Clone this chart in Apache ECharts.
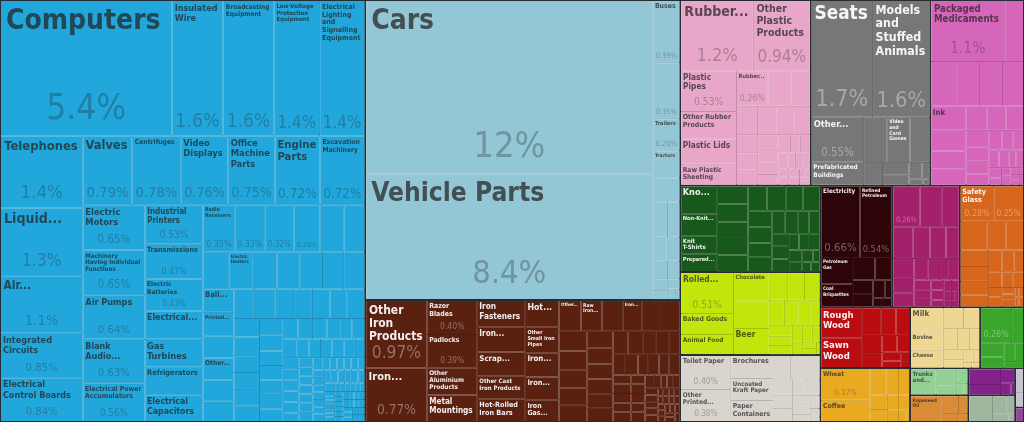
<!DOCTYPE html>
<html><head><meta charset="utf-8">
<script src="https://cdn.jsdelivr.net/npm/echarts/dist/echarts.min.js"></script>
<style>html,body{margin:0;padding:0;background:#232d33;}#c{width:1024px;height:422px;}</style>
</head><body><div id="c"></div>
<script>
// ---------------- DATA (share of exports, %) ----------------
const machinesNames = ['Computers','Insulated Wire','Broadcasting Equipment','Low-Voltage Protection Equipment','Electrical Lighting and Signalling Equipment',
'Telephones','Liquid...','Air...','Integrated Circuits','Electrical Control Boards',
'Valves','Centrifuges','Video Displays','Office Machine Parts','Engine Parts','Excavation Machinery',
'Electric Motors','Machinery Having Individual Functions','Air Pumps','Blank Audio...','Electrical Power Accumulators',
'Industrial Printers','Transmissions','Electric Batteries','Electrical...','Gas Turbines','Refrigerators','Electrical Capacitors',
'Radio Receivers','','','','','',
'','Electric Heaters','Vacuum Cleaners','Textile...','','Lifting Machinery','Other Electrical...','Printed...','Ball...','Other...'];
const machinesValues = [5.4,1.61,1.6,1.44,1.42,
1.38,1.3,1.1,0.85,0.84,
0.79,0.78,0.76,0.75,0.722,0.717,
0.652,0.648,0.64,0.63,0.56,
0.53,0.47,0.43,0.382,0.378,0.37,0.36,
0.35,0.33,0.32,0.29,0.26,0.23,
0.22,0.21,0.20,0.20,0.19,0.18,0.18,0.17,0.17,0.16,
0.16,0.15,0.15,0.14,0.14,0.13,0.13,0.12,0.12,0.12,
0.11,0.11,0.10,0.10,0.10,0.09,0.09,0.09,0.08,0.08,
0.08,0.08,0.07,0.07,0.07,0.07,0.06,0.06,0.06,0.06,
0.05,0.05,0.05,0.05,0.05,0.04,0.04,0.04,0.04,0.04,
0.04,0.03,0.03,0.03,0.03,0.03,0.03,0.03,0.03,0.03,
0.02,0.02,0.02,0.02,0.02,0.02,0.02,0.02,0.02,0.02,
0.02,0.02,0.02,0.02,0.02,0.02,0.02,0.02,0.02,0.02,
0.01,0.01,0.01,0.01,0.01,0.01,0.01,0.01,0.01,0.01,
0.01,0.01,0.01,0.01,0.01,0.01,0.01,0.01,0.01,0.01,
0.01,0.01,0.01,0.01,0.01,0.01,0.01,0.01,0.01,0.01,
0.01,0.01,0.01,0.01];

const transportNames = ['Cars','Vehicle Parts','Buses','','Trailers','Tractors'];
const transportValues = [11.6,8.4,0.39,0.35,0.20,0.17,0.15,0.12,0.10,0.08,0.07,0.06,0.05,0.04,0.03,0.03,0.02,0.01];

const metalsNames = ['Other Iron Products','Iron...','Razor Blades','Padlocks','Other Aluminium Products','Metal Mountings',
'Iron Fasteners','Iron...','Scrap...','Other Cast Iron Products','Hot-Rolled Iron Bars',
'Hot...','Other Small Iron Pipes','Iron...','Iron...','Iron Gas...','Other...','Raw Iron...','','Iron...'];
const metalsValues = [0.97,0.77,0.40,0.39,0.32,0.31,0.30,0.28,0.27,0.26,0.25,0.21,0.20,0.19,0.18,0.17,
0.16,0.152,0.148,0.142,0.138,0.132,0.128,0.122,0.118,0.11,
0.11,0.10,0.10,0.09,0.09,0.09,0.08,0.08,0.08,0.07,
0.07,0.06,0.06,0.06,0.05,0.05,0.05,0.05,0.04,0.04,
0.04,0.04,0.04,0.03,0.03,0.03,0.03,0.03,0.03,0.02,
0.02,0.02,0.02,0.02,0.02,0.02,0.02,0.02,0.01,0.01,
0.01,0.01,0.01,0.01,0.01,0.01,0.01,0.01,0.01,0.01,0.01,0.01,0.01,0.01,0.01];

const plasticsNames = ['Rubber...','Other Plastic Products','Plastic Pipes','Other Rubber Products','Plastic Lids','Raw Plastic Sheeting','Rubber...','','','Styrene...'];
const plasticsValues = [1.2,0.94,0.53,0.36,0.33,0.27,0.26,0.19,0.16,0.14,0.13,0.12,0.10,0.09,0.08,0.08,0.07,0.06,0.06,0.05,0.05,0.04,0.04,0.04,0.03,0.03,0.03,0.02,0.02,0.02,0.02,0.01,0.01,0.01,0.01];

const miscNames = ['Seats','Models and Stuffed Animals','Other...','Prefabricated Buildings','','Video and Card Games'];
const miscValues = [1.68,1.57,0.55,0.28,0.25,0.24,0.21,0.10,0.08,0.06,0.05,0.03,0.02,0.01];

const chemNames = ['Packaged Medicaments','','','','','','Ink'];
const chemValues = [1.06,0.27,0.26,0.25,0.24,0.22,0.20,0.17,0.15,0.13,0.12,0.11,0.10,0.09,0.08,0.07,0.06,0.06,0.05,0.05,0.04,0.04,0.03,0.03,0.03,0.02,0.02,0.02,0.01,0.01,0.01,0.01,0.01];

const textilesNames = ['Kno...','Non-Knit...','Knit T-Shirts','Prepared...'];
const textilesValues = [0.24,0.19,0.16,0.15,0.13,0.13,0.12,0.12,0.12,0.11,0.11,0.10,0.10,0.09,0.09,0.08,0.08,0.07,0.07,0.06,0.06,0.05,0.05,0.05,0.04,0.04,0.04,0.04,0.03,0.03,0.02,0.02,0.02];

const foodNames = ['Rolled...','Baked Goods','Animal Food','Chocolate','Other Edible Preparations','Beer'];
const foodValues = [0.51,0.26,0.25,0.24,0.23,0.22,0.12,0.11,0.10,0.09,0.08,0.07,0.06,0.06,0.05,0.05,0.04,0.04,0.03,0.03,0.02,0.02,0.01];

const paperNames = ['Toilet Paper','Other Printed...','Brochures','Uncoated Kraft Paper','Paper Containers'];
const paperValues = [0.40,0.38,0.23,0.22,0.21,0.10,0.09,0.08,0.07,0.06,0.06,0.05,0.05,0.04,0.04,0.03,0.03,0.02,0.01];

const mineralNames = ['Electricity','Refined Petroleum','Petroleum Gas','Coal Briquettes'];
const mineralValues = [0.66,0.54,0.20,0.17,0.12,0.09,0.07,0.06,0.05,0.03,0.02,0.02];

const instrumentsNames = [];
const instrumentsValues = [0.26,0.21,0.17,0.15,0.13,0.12,0.10,0.09,0.08,0.07,0.07,0.06,0.05,0.05,0.04,0.04,0.03,0.03,0.03,0.02,0.02,0.02,0.02,0.01,0.01,0.01,0.01];

const stoneNames = ['Safety Glass'];
const stoneValues = [0.28,0.25,0.18,0.13,0.12,0.11,0.10,0.09,0.08,0.07,0.06,0.05,0.05,0.04,0.04,0.03,0.03,0.02,0.02,0.02,0.01,0.01,0.01,0.01];

const woodNames = ['Rough Wood','Sawn Wood'];
const woodValues = [0.30,0.29,0.12,0.10,0.09,0.08,0.07,0.06,0.05,0.04,0.03,0.02,0.01];

const vegetableNames = ['Wheat','Coffee'];
const vegetableValues = [0.37,0.25,0.10,0.08,0.07,0.06,0.05,0.04,0.04,0.03,0.02,0.01];

const animalNames = ['Milk','Bovine','Cheese'];
const animalValues = [0.19,0.142,0.138,0.10,0.08,0.07,0.06,0.05,0.05,0.04,0.03,0.02,0.01,0.01];

const preciousNames = [];
const preciousValues = [0.26,0.10,0.08,0.06,0.05,0.04,0.03];

const hidesNames = ['Trunks and...'];
const hidesValues = [0.162,0.08,0.05,0.04,0.02,0.01];

const byproductsNames = ['Rapeseed Oil'];
const byproductsValues = [0.20,0.07,0.04,0.03,0.02];

const artsNames = [];
const artsValues = [0.122,0.08,0.05,0.03,0.01];

const footwearNames = ['Spring...'];
const footwearValues = [0.15,0.06,0.04,0.03,0.01];

const weaponsNames = [];
const weaponsValues = [0.05,0.03];

const otherNames = [];
const otherValues = [0.03];

// ---------------- STRUCTURE + STYLE ----------------
const sectorList = [
  {key:'machines', title:'Machines', names:machinesNames, values:machinesValues},
  {key:'transport', title:'Transportation', names:transportNames, values:transportValues},
  {key:'metals', title:'Metals', names:metalsNames, values:metalsValues},
  {key:'plastics', title:'Plastics and Rubbers', names:plasticsNames, values:plasticsValues},
  {key:'misc', title:'Miscellaneous', names:miscNames, values:miscValues},
  {key:'chem', title:'Chemical Products', names:chemNames, values:chemValues},
  {key:'textiles', title:'Textiles', names:textilesNames, values:textilesValues},
  {key:'food', title:'Foodstuffs', names:foodNames, values:foodValues},
  {key:'paper', title:'Paper Goods', names:paperNames, values:paperValues},
  {key:'mineral', title:'Mineral Products', names:mineralNames, values:mineralValues},
  {key:'instruments', title:'Instruments', names:instrumentsNames, values:instrumentsValues},
  {key:'stone', title:'Stone and Glass', names:stoneNames, values:stoneValues},
  {key:'wood', title:'Wood Products', names:woodNames, values:woodValues},
  {key:'vegetable', title:'Vegetable Products', names:vegetableNames, values:vegetableValues},
  {key:'animal', title:'Animal Products', names:animalNames, values:animalValues},
  {key:'precious', title:'Precious Metals', names:preciousNames, values:preciousValues},
  {key:'hides', title:'Animal Hides', names:hidesNames, values:hidesValues},
  {key:'byproducts', title:'Animal and Vegetable Bi-Products', names:byproductsNames, values:byproductsValues},
  {key:'arts', title:'Arts and Antiques', names:artsNames, values:artsValues},
  {key:'footwear', title:'Footwear and Headwear', names:footwearNames, values:footwearValues},
  {key:'weapons', title:'Weapons', names:weaponsNames, values:weaponsValues},
  {key:'other', title:'Other', names:otherNames, values:otherValues}
];
const sectorStyle = {
  machines:{color:'#22a7dc', light:false},
  transport:{color:'#93c7d5', light:false},
  metals:{color:'#5a2010', light:true},
  plastics:{color:'#e8a7c8', light:false},
  misc:{color:'#777777', light:true},
  chem:{color:'#d666ba', light:false},
  textiles:{color:'#18591b', light:true},
  food:{color:'#c3e50c', light:false},
  paper:{color:'#d9d4cd', light:false},
  mineral:{color:'#2d0508', light:true},
  instruments:{color:'#a3216b', light:true},
  stone:{color:'#d6661c', light:true},
  wood:{color:'#b90d12', light:true},
  vegetable:{color:'#e9aa22', light:false},
  animal:{color:'#eed793', light:false},
  precious:{color:'#3aa52b', light:true},
  hides:{color:'#92d193', light:false},
  byproducts:{color:'#d98b35', light:false},
  arts:{color:'#84228a', light:true},
  footwear:{color:'#9fb59d', light:false},
  weapons:{color:'#c5c3cc', light:false},
  other:{color:'#8e4a94', light:true}
};
const FONT = "'Liberation Sans Narrow','DejaVu Sans Condensed','Roboto Condensed','Roboto','Noto Sans',sans-serif";

function hexToRgb(h){h=h.replace('#','');return [parseInt(h.substr(0,2),16),parseInt(h.substr(2,2),16),parseInt(h.substr(4,2),16)];}
function mix(c,t,a){return 'rgb('+[0,1,2].map(function(i){return Math.round(c[i]*(1-a)+t[i]*a);}).join(',')+')';}

const mctx = document.createElement('canvas').getContext('2d');
function tw(text,size,weight){mctx.font=weight+' '+size+'px '+FONT;return mctx.measureText(text).width;}
function wrap(name,size,maxW){
  const words=name.split(' ');const lines=[];let cur='';
  for(let i=0;i<words.length;i++){
    const w=words[i];
    if(tw(w,size,'bold')>maxW) return null;
    const t=cur?cur+' '+w:w;
    if(tw(t,size,'bold')<=maxW) cur=t; else {lines.push(cur);cur=w;}
  }
  if(cur) lines.push(cur);
  return lines;
}
function fmtPct(v){ if(v>=10) return Math.round(v)+'%'; if(v>=1) return v.toFixed(1)+'%'; return v.toPrecision(2)+'%'; }

function makeLabel(name,value,size,nameCol,pctCol){
  if(!size) return {show:false};
  const w=size[0],h=size[1];
  const pad=Math.max(1.5,Math.min(5,Math.min(w,h)*0.045));
  const iw=w-2*pad-1, ih=h-2*pad-0.5;
  if(iw<6||ih<5) return {show:false};
  const pct=fmtPct(value);
  let pf=0;
  if(h>=30&&w>=25){
    pf=Math.min(36,h*0.26);
    while(pf>4&&tw(pct,pf,'normal')>iw) pf-=0.5;
    if(pf<4.5) pf=0;
  }
  const pctBlock=pf?pf*1.15:0;
  let nf=0,lines=null;
  if(name){
    let f=pf?Math.min(28,h*0.21):Math.min(9.5,h*0.34);
    while(f>=4.5){
      const ls=wrap(name,f,iw);
      if(ls&&ls.length*f*1.12<=ih-pctBlock){nf=f;lines=ls;break;}
      f-=0.5;
    }
  }
  if(!nf&&!pf) return {show:false};
  const parts=[];
  let used=0;
  if(lines){parts.push(lines.map(function(l){return '{n|'+l+'}';}).join('\n'));used+=lines.length*nf*1.12;}
  let gap=ih-used-pctBlock;
  if(pf){
    if(gap>=1) parts.push('{g| }'); else gap=0;
    parts.push('{p|'+pct+'}');
  }
  const str=parts.join('\n');
  return {
    show:true, position:'insideTopLeft', distance:0, padding:pad, overflow:'none',
    fontFamily:FONT,
    formatter:function(){return str;},
    rich:{
      n:{fontFamily:FONT,fontWeight:'bold',fontSize:nf||8,lineHeight:(nf||8)*1.12,color:nameCol,align:'left'},
      g:{fontSize:1,lineHeight:Math.max(gap,1)},
      p:{fontFamily:FONT,fontWeight:'normal',fontSize:pf||8,lineHeight:(pf||8)*1.15,color:pctCol,align:'center'}
    }
  };
}

function buildData(sizes){
  return sectorList.map(function(s){
    const st=sectorStyle[s.key];
    const bg=hexToRgb(st.color);
    const nameCol=st.light?'rgba(255,255,255,0.93)':mix(bg,[34,34,34],0.72);
    const pctCol=st.light?mix(bg,[255,255,255],0.36):mix(bg,[34,34,34],0.3);
    const children=s.values.map(function(v,i){
      const id=s.key+'_'+i;
      const item={id:id,name:s.names[i]||'',value:v};
      item.label=sizes?makeLabel(item.name,v,sizes[id],nameCol,pctCol):{show:false};
      return item;
    });
    return {id:s.key,name:s.title,itemStyle:{color:st.color,borderColor:mix(bg,[0,0,0],0.16),borderWidth:0,gapWidth:1},children:children};
  });
}

function buildOption(sizes){
  return {
    backgroundColor:'#232d33',
    animation:false,
    series:[{
      type:'treemap',
      left:0,top:0,width:1024,height:422,
      roam:false,nodeClick:false,silent:true,
      breadcrumb:{show:false},
      visibleMin:1,
      label:{show:false},
      upperLabel:{show:false},
      levels:[
        {itemStyle:{borderColor:'#232d33',borderWidth:1,gapWidth:2}},
        {itemStyle:{borderWidth:0,gapWidth:1}},
        {itemStyle:{borderWidth:0,gapWidth:0}}
      ],
      data:buildData(sizes)
    }]
  };
}

const chart=echarts.init(document.getElementById('c'),null,{renderer:'canvas'});
chart.setOption(buildOption(null));
const sizes={};
try{
  const sm=chart.getModel().getSeriesByIndex(0);
  const data=sm.getData();
  data.tree.root.eachNode(function(node){
    if(node.depth===2){
      const l=node.getLayout();
      const id=node.getModel().get('id');
      if(l&&id!=null) sizes[id]=[l.width,l.height];
    }
  });
}catch(e){console.log('layout read failed',e);}
chart.setOption(buildOption(sizes),true);
</script></body></html>
